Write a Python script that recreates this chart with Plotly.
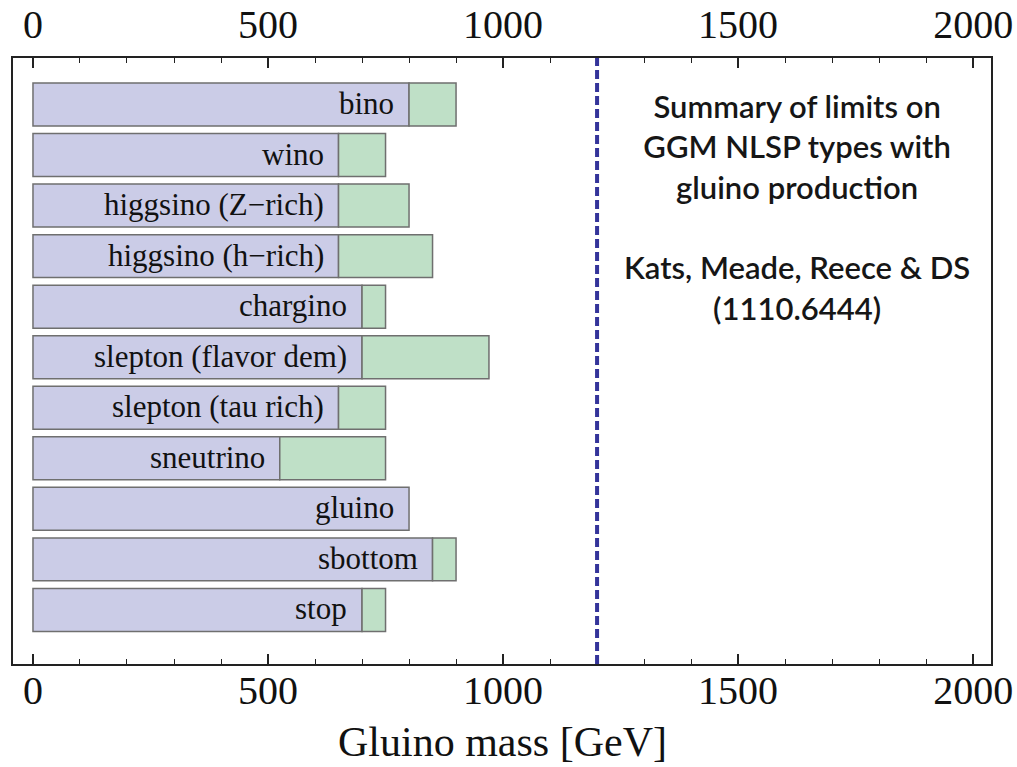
import plotly.graph_objects as go

# NLSP types, top to bottom
nlsp_types = ["bino", "wino", "higgsino (Z\u2212rich)", "higgsino (h\u2212rich)", "chargino",
              "slepton (flavor dem)", "slepton (tau rich)", "sneutrino", "gluino",
              "sbottom", "stop"]
# gluino mass limits [GeV]: conservative (purple) and extended (green) reach
limit_low = [800, 650, 650, 650, 700, 700, 650, 525, 800, 850, 700]
limit_high = [900, 750, 800, 850, 750, 970, 750, 750, 800, 900, 750]
reference_mass = 1200

n = len(nlsp_types)
ypos = [n - 1 - i for i in range(n)]

purple = "#cbcce7"
green = "#bfe0c7"
edge = "#6f6f6f"
serif = "Liberation Serif, Times New Roman, serif"

fig = go.Figure()
fig.add_trace(go.Bar(
    x=limit_low, y=ypos, orientation="h", width=0.85,
    marker=dict(color=purple, line=dict(color=edge, width=1.5)),
    hoverinfo="skip", showlegend=False,
))
green_w = [h - l if h > l else None for l, h in zip(limit_low, limit_high)]
fig.add_trace(go.Bar(
    x=green_w, y=ypos, base=limit_low, orientation="h", width=0.85,
    marker=dict(color=green, line=dict(color=edge, width=1.5)),
    hoverinfo="skip", showlegend=False,
))
fig.update_layout(barmode="overlay")

for name, lo, y in zip(nlsp_types, limit_low, ypos):
    fig.add_annotation(x=lo, y=y, text=name, showarrow=False, xanchor="right",
                       xshift=-13, yshift=1, font=dict(family=serif, size=31, color="#111"))

fig.add_shape(type="line", x0=reference_mass, x1=reference_mass, y0=0, y1=1,
              xref="x", yref="paper", line=dict(color="#34349a", width=4, dash="9px,4px"))

summary = ("Summary of limits on<br>GGM NLSP types with<br>gluino production<br><br>"
           "Kats, Meade, Reece &amp; DS<br>(1110.6444)")
fig.add_annotation(x=1625, y=7.97, xref="x", yref="y", text=summary, showarrow=False,
                   align="center", xanchor="center", yanchor="middle",
                   font=dict(family="Lato, sans-serif", size=31, color="#161616", weight=600))

# x-axis title below the bottom tick labels
fig.add_annotation(x=0.5, y=-0.129, xref="paper", yref="paper", text="Gluino mass [GeV]",
                   showarrow=False, xanchor="center", yanchor="middle",
                   font=dict(family=serif, size=42, color="#111"))

xr = [-42.5, 2038]
axis_common = dict(
    range=xr, tickvals=[0, 500, 1000, 1500, 2000], ticks="inside", ticklen=10,
    tickwidth=1.5, tickcolor="#222", showgrid=False, zeroline=False,
    tickfont=dict(family=serif, size=40, color="#111"),
    minor=dict(dtick=100, tick0=0, ticks="inside", ticklen=5, tickwidth=1.2, tickcolor="#222"),
    showline=True, linecolor="#222", linewidth=1.5, automargin=False,
)
fig.update_layout(
    xaxis=dict(**axis_common, side="bottom", ticklabelstandoff=-10),
    xaxis2=dict(**axis_common, side="top", overlaying="x", matches="x", ticklabelstandoff=2),
    yaxis=dict(range=[-1.07, 10.92], showticklabels=False, ticks="", showgrid=False,
               zeroline=False, showline=True, mirror=True, linecolor="#222", linewidth=1.5,
               automargin=False),
    width=1017, height=767,
    margin=dict(l=13, r=26, t=58, b=103),
    plot_bgcolor="white", paper_bgcolor="white",
)
fig.add_trace(go.Scatter(x=[None], y=[None], xaxis="x2", showlegend=False))

fig.write_html("out.html")
